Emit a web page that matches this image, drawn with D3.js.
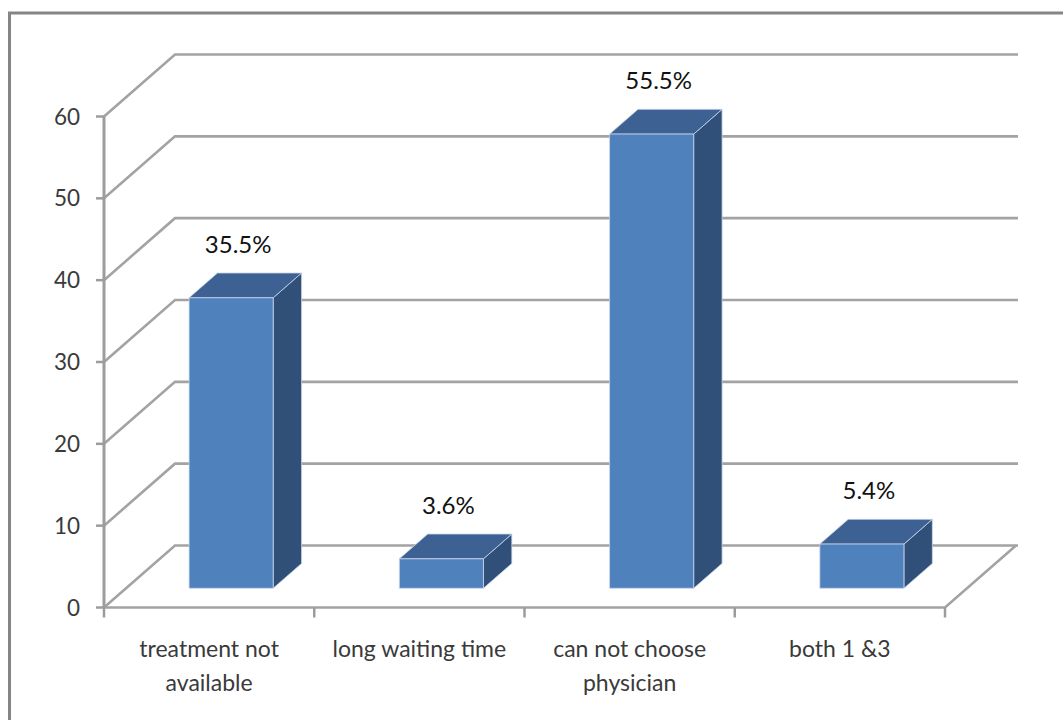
<!DOCTYPE html>
<html>
<head>
<meta charset="utf-8">
<script src="https://cdn.jsdelivr.net/npm/d3@7/dist/d3.min.js"></script>
<style>
  html, body { margin: 0; padding: 0; background: #ffffff; }
  svg { display: block; }
  text { font-family: Lato, "Open Sans", sans-serif; }
</style>
</head>
<body>
<svg id="chart" width="1063" height="720"></svg>
<script>
// ---- data ----
const categories = [["treatment not", "available"], ["long waiting time"], ["can not choose", "physician"], ["both 1 &3"]];
const values = [35.5, 3.6, 55.5, 5.4];
const valueLabels = ["35.5%", "3.6%", "55.5%", "5.4%"];
const yTicks = [0, 10, 20, 30, 40, 50, 60];

// ---- layout ----
const svg = d3.select("#chart");
const x0 = 104, x1 = 945;          // front floor edge
const depthDX = 71, depthDY = 62;  // projection offset of full depth
const zFront = 0.31, zBack = 0.71; // bar position in depth
const backRight = x1 + 73;

const y = d3.scaleLinear().domain([0, 60]).range([607.5, 116.5]);
const x = d3.scaleBand().domain(d3.range(values.length)).range([x0, x1])
  .paddingInner(0.6).paddingOuter(0.3);
const step = (x1 - x0) / values.length;

const proj = (px, v, z) => [px + z * depthDX, y(v) - z * depthDY];

const gridColor = "#a3a3a3";

// frame
svg.append("rect").attr("x", 9.5).attr("y", 13).attr("width", 1100).attr("height", 800)
  .attr("fill", "none").attr("stroke", "#858585").attr("stroke-width", 3);

// gridlines (side wall diagonal + back wall)
const grid = svg.append("g");
yTicks.forEach(t => {
  const a = proj(x0, t, 0), b = proj(x0, t, 1), c = [backRight, b[1]];
  grid.append("polyline")
    .attr("points", [a, b, c].map(p => p.join(",")).join(" "))
    .attr("fill", "none").attr("stroke", gridColor).attr("stroke-width", 2.6);
});

// floor outline
const fl = [proj(x0, 0, 0), proj(x1, 0, 0), proj(x1, 0, 1)];
svg.append("polyline").attr("points", fl.map(p => p.join(",")).join(" "))
  .attr("fill", "none").attr("stroke", gridColor).attr("stroke-width", 2.6);

// front y axis
svg.append("line").attr("x1", x0).attr("x2", x0).attr("y1", y(60)).attr("y2", y(0))
  .attr("stroke", "#9c9c9c").attr("stroke-width", 3);
const yAxis = svg.append("g");
yTicks.forEach(t => {
  yAxis.append("line").attr("x1", x0 - 8).attr("x2", x0).attr("y1", y(t)).attr("y2", y(t))
    .attr("stroke", "#9c9c9c").attr("stroke-width", 2.5);
  yAxis.append("text").attr("x", 80).attr("y", y(t)).attr("dy", "0.36em")
    .attr("text-anchor", "end").attr("font-size", 22.5).attr("fill", "#3a3a3a").text(t);
});

// x ticks at category boundaries
d3.range(values.length + 1).forEach(i => {
  const px = x0 + i * step;
  svg.append("line").attr("x1", px).attr("x2", px).attr("y1", y(0)).attr("y2", y(0) + 10)
    .attr("stroke", "#9c9c9c").attr("stroke-width", 2.5);
});

// x labels
categories.forEach((lines, i) => {
  const cx = x0 + (i + 0.5) * step;
  const t = svg.append("text").attr("text-anchor", "middle").attr("font-size", 23).attr("fill", "#3a3a3a");
  lines.forEach((l, j) => {
    t.append("tspan").attr("x", cx).attr("y", 657 + j * 34).text(l);
  });
});

// bars
const bars = svg.append("g");
values.forEach((v, i) => {
  const bx = x(i), bw = x.bandwidth();
  const fTL = proj(bx, v, zFront), fTR = proj(bx + bw, v, zFront);
  const fBR = proj(bx + bw, 0, zFront), fBL = proj(bx, 0, zFront);
  const bTL = proj(bx, v, zBack), bTR = proj(bx + bw, v, zBack), bBR = proj(bx + bw, 0, zBack);
  const poly = (pts, fill) => bars.append("polygon")
    .attr("points", pts.map(p => p.join(",")).join(" "))
    .attr("fill", fill).attr("stroke", "#c9d6e8").attr("stroke-width", 0.8).attr("stroke-linejoin", "round");
  poly([fTR, bTR, bBR, fBR], "#30507a");
  poly([fTL, bTL, bTR, fTR], "#3c6192");
  poly([fTL, fTR, fBR, fBL], "#4f81bd");
  bars.append("text").attr("x", (fTL[0] + fTR[0]) / 2 + 7).attr("y", bTL[1] - 20)
    .attr("text-anchor", "middle").attr("font-size", 24).attr("fill", "#111").text(valueLabels[i]);
});
</script>
</body>
</html>
